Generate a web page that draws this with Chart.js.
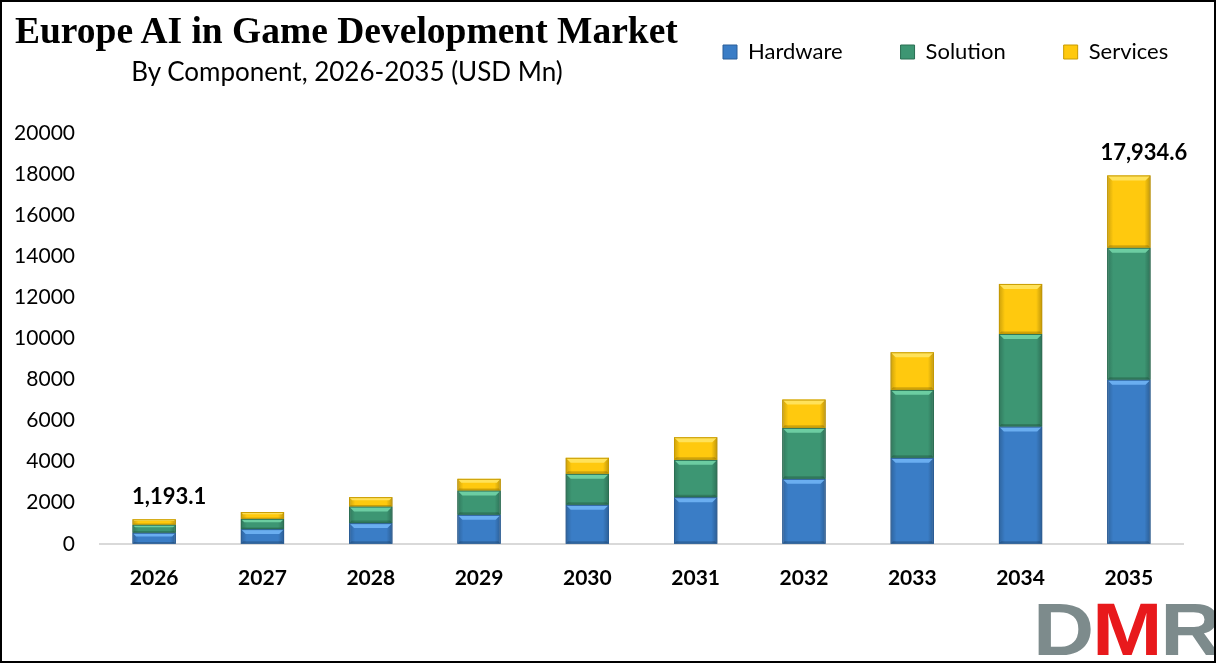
<!DOCTYPE html>
<html>
<head>
<meta charset="utf-8">
<script src="https://cdn.jsdelivr.net/npm/chart.js@4.4.1/dist/chart.umd.min.js"></script>
<style>
  html, body { margin: 0; padding: 0; background: #fff; }
  #frame {
    position: relative; width: 1216px; height: 663px; box-sizing: border-box;
    border: 2px solid #000; overflow: hidden; background: #fff;
  }
  #chart { position: absolute; left: 0; top: 0; }
  .title {
    position: absolute; left: 13px; top: 10px; font: bold 37.5px "Liberation Serif", serif;
    line-height: 37px; color: #000; white-space: nowrap;
  }
  .subtitle {
    position: absolute; left: 0; width: 690px; top: 56px; text-align: center;
    font: 26px Lato, sans-serif; line-height: 26px; color: #000; white-space: nowrap;
  }
  .logo {
    position: absolute; left: 1031px; top: 590px; font: bold 75px "Liberation Sans", sans-serif;
    line-height: 75px; letter-spacing: -2px; white-space: nowrap;
    transform: scaleX(1.13); transform-origin: left top;
  }
  .logo .g { color: #7d8b8c; }
  .logo .r { color: #e8191c; }
</style>
</head>
<body>
<div id="frame">
  <canvas id="chart" width="1212" height="659"></canvas>
  <div class="title">Europe AI in Game Development Market</div>
  <div class="subtitle">By Component, 2026-2035 (USD Mn)</div>
  <div class="logo"><span class="g">D</span><span class="r">M</span><span class="g">R</span></div>
</div>

<script>
/* ====== DATEN ====== */
const years = ["2026", "2027", "2028", "2029", "2030", "2031", "2032", "2033", "2034", "2035"];
const hardware = [540, 715, 1007, 1411, 1898, 2268, 3163, 4185, 5708, 7990];
const solution = [390, 500, 808, 1183, 1509, 1820, 2482, 3309, 4511, 6425];
const services = [263.1, 330, 457, 569, 779, 1100, 1377, 1830, 2433, 3519.6];
const totalLabels = ["1,193.1", "", "", "", "", "", "", "", "", "17,934.6"];
const yTicks = [0, 2000, 4000, 6000, 8000, 10000, 12000, 14000, 16000, 18000, 20000];

/* ====== STYLES ====== */
const fills   = ["#3a7dc6", "#3d9673", "#ffc90e"];
const borders = ["#2a5e98", "#2b6f53", "#c89b00"];
const lights  = ["#6aaef0", "#6ccda2", "#ffe25a"];

/* Excel-artiger Bevel-Effekt auf den Balken */
const bevel = {
  id: "bevel",
  afterDatasetsDraw(chart) {
    const ctx = chart.ctx;
    chart.data.datasets.forEach((ds, di) => {
      chart.getDatasetMeta(di).data.forEach(bar => {
        const { x, y, base, width } = bar.getProps(["x", "y", "base", "width"], true);
        const l = x - width / 2, r = x + width / 2, h = base - y;
        if (h < 2) return;
        const b = Math.min(5, h / 3);
        ctx.save();
        const g = ctx.createLinearGradient(l, 0, r, 0);
        g.addColorStop(0, "rgba(0,0,0,0.20)");
        g.addColorStop(0.14, "rgba(0,0,0,0)");
        g.addColorStop(0.86, "rgba(0,0,0,0)");
        g.addColorStop(1, "rgba(0,0,0,0.25)");
        ctx.fillStyle = g;
        ctx.fillRect(l, y, width, h);
        // obere Kante hell
        ctx.fillStyle = lights[di];
        ctx.beginPath();
        ctx.moveTo(l, y); ctx.lineTo(r, y); ctx.lineTo(r - b, y + b); ctx.lineTo(l + b, y + b);
        ctx.closePath(); ctx.fill();
        // untere Kante dunkel
        ctx.fillStyle = "rgba(0,0,0,0.18)";
        ctx.beginPath();
        ctx.moveTo(l, base); ctx.lineTo(r, base); ctx.lineTo(r - b / 2, base - b / 2); ctx.lineTo(l + b / 2, base - b / 2);
        ctx.closePath(); ctx.fill();
        ctx.strokeStyle = borders[di];
        ctx.lineWidth = 1;
        ctx.strokeRect(l + 0.5, y + 0.5, width - 1, h - 1);
        ctx.restore();
      });
    });
  }
};

/* Summen über dem ersten und letzten Balken */
const totals = {
  id: "totals",
  afterDatasetsDraw(chart) {
    const ctx = chart.ctx;
    const last = chart.getDatasetMeta(chart.data.datasets.length - 1);
    ctx.save();
    ctx.font = "bold 22px Lato, sans-serif";
    ctx.fillStyle = "#000";
    ctx.textAlign = "center";
    ctx.textBaseline = "alphabetic";
    totalLabels.forEach((t, i) => {
      if (!t) return;
      const bar = last.data[i];
      ctx.fillText(t, bar.x + 15, bar.y - 15);
    });
    ctx.restore();
  }
};

/* Legende nach rechts oben schieben */
const legendPos = {
  id: "legendPos",
  afterLayout(chart) {
    chart.legend.left = 663;
    chart.legend.right = 1400;
    chart.legend.top = -19;
  }
};

new Chart(document.getElementById("chart"), {
  type: "bar",
  data: {
    labels: years,
    datasets: [
      { label: "Hardware", data: hardware },
      { label: "Solution", data: solution },
      { label: "Services", data: services }
    ].map((d, i) => ({
      ...d,
      backgroundColor: fills[i],
      borderColor: borders[i],
      borderWidth: 1,
      barPercentage: 0.4,
      categoryPercentage: 1
    }))
  },
  options: {
    responsive: false,
    animation: false,
    layout: { padding: { top: 41, right: 31, bottom: 56, left: 0 } },
    plugins: {
      legend: {
        position: "top",
        align: "start",
        labels: {
          boxWidth: 14,
          boxHeight: 14,
          padding: 58,
          color: "#000",
          font: { family: "Lato", size: 22 }
        }
      },
      tooltip: { enabled: false }
    },
    scales: {
      x: {
        stacked: true,
        grid: { display: false },
        border: { display: true, color: "#d9d9d9", width: 2 },
        ticks: {
          color: "#000",
          padding: 14,
          font: { family: "Lato", size: 21, weight: "bold" }
        }
      },
      y: {
        stacked: true,
        min: 0,
        max: 20000,
        grid: { display: false },
        border: { display: false },
        afterBuildTicks: s => { s.ticks = yTicks.map(v => ({ value: v })); },
        afterFit: s => { s.width = 98; },
        ticks: {
          color: "#000",
          padding: 17,
          font: { family: "Lato", size: 21 },
          callback: v => String(v)
        }
      }
    }
  },
  plugins: [bevel, totals, legendPos]
});
</script>
</body>
</html>
